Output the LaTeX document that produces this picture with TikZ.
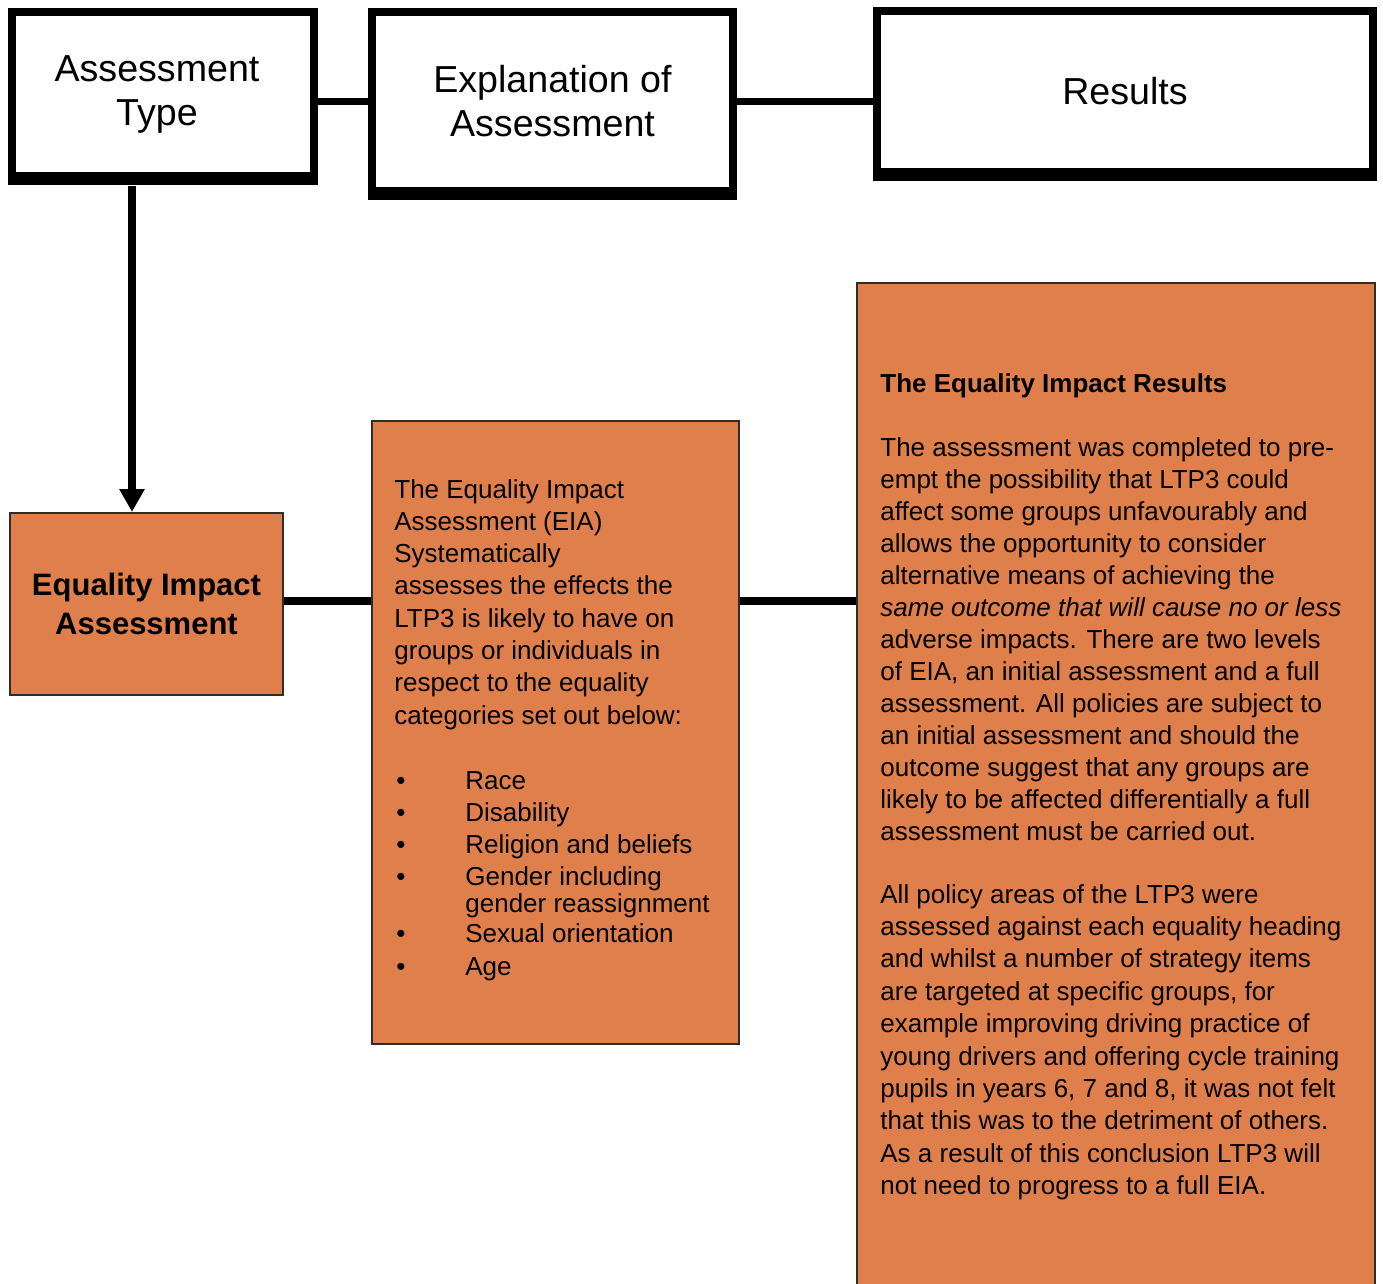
\documentclass[tikz,border=0pt]{standalone}
\usepackage{fontspec}
\setmainfont{Liberation Sans}
\usetikzlibrary{arrows.meta}
\definecolor{eiaorange}{RGB}{223,127,75}
\definecolor{edgegray}{RGB}{45,45,45}
\begin{document}
\begin{tikzpicture}[x=0.5pt,y=-0.5pt,
  headbox/.style={draw=black,line width=3.8pt,fill=white,inner sep=0pt,align=center,
    font=\fontsize{18.8}{22}\selectfont},
  orbox/.style={draw=edgegray,line width=1pt,fill=eiaorange,inner sep=0pt},
  conn/.style={line width=3.6pt,draw=black},
  shadowbar/.style={line width=2.5pt,draw=black},
  txt/.style={anchor=base west,inner sep=0pt,font=\fontsize{13}{16}\selectfont},
  ttl/.style={anchor=base west,inner sep=0pt,font=\fontsize{13}{16}\selectfont\bfseries}]
\useasboundingbox (0,0) rectangle (1383,1284);
\fill[white] (0,0) rectangle (1383,1284);

% header boxes
\node[headbox,minimum width=151pt,minimum height=82pt] (at) at (163,94) {\hspace*{-6pt}Assessment\\\hspace*{-6pt}Type};
\node[headbox,minimum width=180.5pt,minimum height=89.5pt] (ex) at (552.5,101.5) {Explanation of\\Assessment};
\node[headbox,minimum width=248pt,minimum height=80.5pt] (rs) at (1125,91.5) {Results};
\foreach \b in {at,ex,rs}
  \draw[shadowbar] ([yshift=-1.5pt]\b.south west) -- ([yshift=-1.5pt]\b.south east);

% orange boxes
\node[orbox,minimum width=136.5pt,minimum height=91pt,align=center,
  font=\fontsize{15.5}{19.5}\selectfont\bfseries] (eia) at (146.5,604) {Equality Impact\\Assessment};
\node[orbox,minimum width=183.5pt,minimum height=311.5pt] (mid) at (555.5,732.5) {};
\node[orbox,minimum width=259pt,minimum height=503.5pt] (res) at (1116,786.5) {};

% connectors
\coordinate (arrowx) at (132,0);
\coordinate (midline) at (0,601);
\draw[conn] (at.east |- ex.west) -- (ex.west);
\draw[conn] (ex.east) -- (rs.west |- ex.east);
\draw[conn,-{Triangle[length=11.5pt,width=12pt]}] ([yshift=-3pt]at.south -| arrowx) -- (eia.north -| arrowx);
\draw[conn] (eia.east |- midline) -- (mid.west |- midline);
\draw[conn] (mid.east |- midline) -- (res.west |- midline);

% middle box text
\foreach \t [count=\i] in {The Equality Impact, Assessment (EIA), Systematically,
  assesses the effects the, LTP3 is likely to have on, groups or individuals in,
  respect to the equality, categories set out below:}
  \node[txt] (ma\i) at (394,{498+(\i-1)*32.3}) {\t};

\foreach \t/\yy [count=\i] in {Race/789, Disability/821, Religion and beliefs/853,
  Gender including/885, Sexual orientation/942, Age/975}{
  \node[txt] (bu\i) at (396,\yy) {•};
  \node[txt] (it\i) at (465,\yy) {\t};
}
\node[txt] (it4b) at (465,912) {gender reassignment};

% right box text
\node[ttl] (rt) at (880,392) {The Equality Impact Results};
\foreach \t [count=\i] in {The assessment was completed to pre-,
  empt the possibility that LTP3 could,
  affect some groups unfavourably and,
  allows the opportunity to consider,
  alternative means of achieving the,
  \itshape same outcome that will cause no or less,
  adverse impacts. There are two levels,
  {of EIA, an initial assessment and a full},
  assessment. All policies are subject to,
  an initial assessment and should the,
  outcome suggest that any groups are,
  likely to be affected differentially a full,
  assessment must be carried out.}
  \node[txt] (ra\i) at (880,{456+(\i-1)*32}) {\t};

\foreach \t [count=\i] in {All policy areas of the LTP3 were,
  assessed against each equality heading,
  and whilst a number of strategy items,
  {are targeted at specific groups, for},
  example improving driving practice of,
  young drivers and offering cycle training,
  {pupils in years 6, 7 and 8, it was not felt},
  that this was to the detriment of others.,
  As a result of this conclusion LTP3 will,
  not need to progress to a full EIA.}
  \node[txt] (rb\i) at (880,{903+(\i-1)*32.4}) {\t};
\end{tikzpicture}
\end{document}
